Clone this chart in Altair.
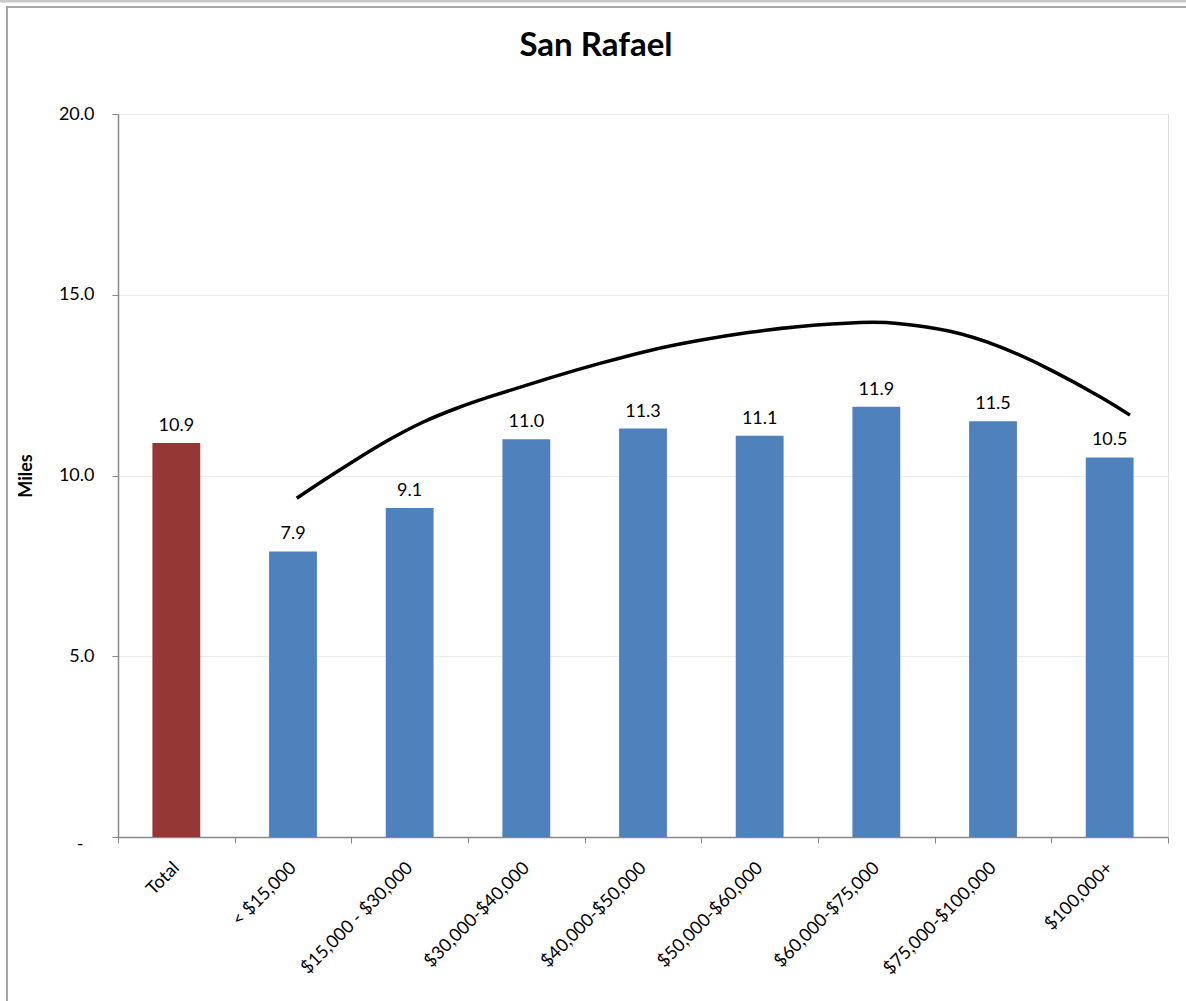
import altair as alt
import pandas as pd

# Average trip length by household income, San Rafael
categories = [
    "Total",
    "< $15,000",
    "$15,000 - $30,000",
    "$30,000-$40,000",
    "$40,000-$50,000",
    "$50,000-$60,000",
    "$60,000-$75,000",
    "$75,000-$100,000",
    "$100,000+",
]
miles = [10.9, 7.9, 9.1, 11.0, 11.3, 11.1, 11.9, 11.5, 10.5]
group = ["Total"] + ["Income band"] * 8

# Polynomial trend over the income bands, sampled along the category axis
# (position measured in category widths from the left edge of the plot)
trend_pos = [1.532, 1.760, 2.046, 2.331, 2.617, 2.903, 3.189, 3.703, 4.131, 4.560,
             4.989, 5.417, 5.846, 6.360, 6.703, 7.131, 7.560, 7.989, 8.417, 8.674]
trend_miles = [9.37, 9.86, 10.45, 11.00, 11.48, 11.86, 12.18, 12.70, 13.10, 13.46,
               13.74, 13.96, 14.12, 14.23, 14.20, 13.99, 13.56, 12.93, 12.18, 11.67]

W, H = 1050, 723
FONT = "Lato"
AXIS_GREY = "#888888"

bars_df = pd.DataFrame({"category": categories, "miles": miles, "group": group})
trend_df = pd.DataFrame({"pos": trend_pos, "miles": trend_miles})
one_row = pd.DataFrame({"k": [0]})

y_enc = alt.Y(
    "miles:Q",
    scale=alt.Scale(domain=[0, 20], nice=False),
    axis=alt.Axis(
        values=[0, 5, 10, 15, 20],
        labelExpr="datum.value == 0 ? '-' : format(datum.value, '.1f')",
        tickSize=6,
        tickColor=AXIS_GREY,
        domainColor=AXIS_GREY,
        domainWidth=1.5,
        gridColor="#ececec",
        gridWidth=1,
        labelFont=FONT,
        labelFontSize=18,
        labelColor="#000000",
        labelPadding={"condition": {"test": "datum.value === 0", "value": 29}, "value": 18},
        labelOffset={"condition": {"test": "datum.value === 0", "value": 7}, "value": 0},
        title="Miles",
        titleFont=FONT,
        titleFontSize=18,
        titleFontWeight="bold",
        titleColor="#000000",
        titleAngle=-90,
        titleX=-91.5,
        titleY=H / 2,
        titleAlign="center",
        titleBaseline="middle",
    ),
)

x_band = alt.Scale(paddingInner=0, paddingOuter=0)

bars = alt.Chart(bars_df).mark_bar(width=alt.RelativeBandSize(0.41)).encode(
    x=alt.X(
        "category:N",
        sort=categories,
        scale=x_band,
        axis=alt.Axis(
            title=None,
            labelAngle=-45,
            labelAlign="right",
            labelBaseline="middle",
            labelFont=FONT,
            labelFontSize=18,
            labelColor="#000000",
            labelPadding=22,
            tickBand="extent",
            tickSize=6,
            tickColor=AXIS_GREY,
            domainColor=AXIS_GREY,
            domainWidth=1.5,
            grid=False,
        ),
    ),
    y=y_enc,
    color=alt.Color(
        "group:N",
        scale=alt.Scale(domain=["Total", "Income band"], range=["#953735", "#4F81BD"]),
        legend=None,
    ),
)

labels = alt.Chart(bars_df).mark_text(
    dy=-12, baseline="alphabetic", fontSize=18, font=FONT, color="#000000"
).encode(
    x=alt.X("category:N", sort=categories, scale=x_band, axis=None),
    y=y_enc,
    text=alt.Text("miles:Q", format=".1f"),
)

trend = alt.Chart(trend_df).mark_line(
    color="#000000", strokeWidth=3.5, interpolate="natural"
).encode(
    x=alt.X("pos:Q", scale=alt.Scale(domain=[0, 9], nice=False, zero=False), axis=None),
    y=y_enc,
)

# outer chart-area frame
frame = alt.Chart(one_row).mark_rect(
    fill="#ffffff", fillOpacity=0, stroke="#a6a6a6", strokeWidth=2
).encode(
    x=alt.value(-111), y=alt.value(-107), x2=alt.value(W + 200), y2=alt.value(H + 300)
)
top_band = alt.Chart(one_row).mark_rect(fill="#c8c8c8").encode(
    x=alt.value(-118), y=alt.value(-114), x2=alt.value(W + 200), y2=alt.value(-111.5)
)

chart = (
    alt.layer(top_band, frame, bars, labels, trend)
    .resolve_scale(x="independent")
    .properties(
        width=W,
        height=H,
        title=alt.TitleParams(
            "San Rafael",
            font=FONT,
            fontSize=33,
            fontWeight="bold",
            color="#000000",
            anchor="middle",
            baseline="alphabetic",
            dx=-47,
            offset=-89,
        ),
        autosize=alt.AutoSizeParams(type="none"),
        padding={"left": 118, "top": 114, "right": 18, "bottom": 164},
    )
    .configure_view(stroke=None)
    .configure(background="#ffffff")
)

chart.save("out.html", embed_options={"renderer": "svg", "actions": False})
